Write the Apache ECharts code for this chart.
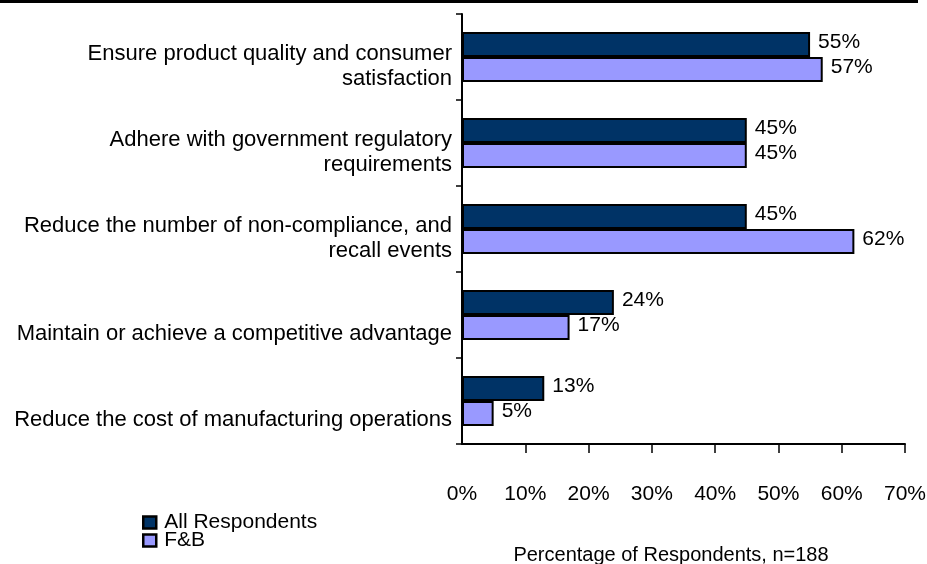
<!DOCTYPE html>
<html>
<head>
<meta charset="utf-8">
<script src="https://cdn.jsdelivr.net/npm/echarts@6/dist/echarts.min.js"></script>
<style>
html,body{margin:0;padding:0;background:#fff;}
#chart{width:927px;height:564px;}
</style>
</head>
<body>
<div id="chart"></div>
<script>
const categories = [
  'Ensure product quality and consumer\nsatisfaction',
  'Adhere with government regulatory\nrequirements',
  'Reduce the number of non-compliance, and\nrecall events',
  'Maintain or achieve a competitive advantage',
  'Reduce the cost of manufacturing operations'
];
const allRespondents = [55, 45, 45, 24, 13];
const fnb = [57, 45, 62, 17, 5];
const xLabelValues = [0, 10, 20, 30, 40, 50, 60, 70];
const xTickValues = [10, 20, 30, 40, 50, 60, 70];
const seriesNames = ['All Respondents', 'F&B'];
const axisTitle = 'Percentage of Respondents, n=188';

const FONT = '"Liberation Sans", Arial, sans-serif';
const chart = echarts.init(document.getElementById('chart'), null, {renderer: 'canvas'});

const barLabel = {
  show: true,
  position: 'right',
  distance: 8,
  offset: [0, -2],
  color: '#000',
  fontSize: 21,
  fontFamily: FONT,
  formatter: p => p.value + '%'
};

chart.setOption({
  backgroundColor: '#fff',
  animation: false,
  textStyle: {fontFamily: FONT, color: '#000'},
  graphic: [{
    type: 'line',
    shape: {x1: 0, y1: 1.5, x2: 918, y2: 1.5},
    style: {stroke: '#000', lineWidth: 3}
  }],
  legend: [{
    data: [seriesNames[0]],
    left: 137, top: 507,
    icon: 'rect', itemWidth: 13, itemHeight: 12,
    itemStyle: {borderColor: '#000', borderWidth: 2.5},
    textStyle: {fontSize: 21, fontFamily: FONT, color: '#000', padding: [0, 0, 0, 3]}
  }, {
    data: [seriesNames[1]],
    left: 137, top: 525,
    icon: 'rect', itemWidth: 13, itemHeight: 12,
    itemStyle: {borderColor: '#000', borderWidth: 2.5},
    textStyle: {fontSize: 21, fontFamily: FONT, color: '#000', padding: [0, 0, 0, 3]}
  }],
  grid: {left: 462, right: 22, top: 14, bottom: 120, containLabel: false, outerBoundsMode: 'none'},
  xAxis: {
    type: 'value', min: 0, max: 70, interval: 10,
    axisLine: {show: true, lineStyle: {color: '#000', width: 2}},
    axisTick: {show: true, length: 9, customValues: xTickValues, lineStyle: {color: '#000', width: 1.5}},
    axisLabel: {customValues: xLabelValues, formatter: v => v + '%', fontSize: 21, color: '#000', fontFamily: FONT, margin: 40},
    splitLine: {show: false},
    name: axisTitle,
    nameLocation: 'middle',
    nameGap: 101,
    nameTextStyle: {fontSize: 20, color: '#000', fontFamily: FONT, padding: [0, 25, 0, 0]}
  },
  yAxis: {
    type: 'category', inverse: true, data: categories,
    axisLine: {show: true, lineStyle: {color: '#000', width: 2}},
    axisTick: {show: true, length: 6, lineStyle: {color: '#000', width: 1.5}},
    axisLabel: {
      margin: 10, fontSize: 22, color: '#000', fontFamily: FONT, align: 'right',
      padding: [19, 0, 0, 0],
      formatter: v => v.indexOf('\n') >= 0
        ? v.split('\n').map(s => '{m|' + s + '}').join('\n')
        : '{s|' + v + '}',
      rich: {
        m: {fontSize: 22, lineHeight: 25, fontFamily: FONT, color: '#000', align: 'right'},
        s: {fontSize: 22, lineHeight: 40, fontFamily: FONT, color: '#000', align: 'right', verticalAlign: 'bottom'}
      }
    }
  },
  series: [{
    name: seriesNames[0], type: 'bar', data: allRespondents,
    barCategoryGap: '42%', barGap: '0%',
    itemStyle: {color: '#003366', borderColor: '#000', borderWidth: 2},
    label: barLabel
  }, {
    name: seriesNames[1], type: 'bar', data: fnb,
    barCategoryGap: '42%', barGap: '0%',
    itemStyle: {color: '#9999FF', borderColor: '#000', borderWidth: 2},
    label: barLabel
  }]
});
</script>
</body>
</html>
